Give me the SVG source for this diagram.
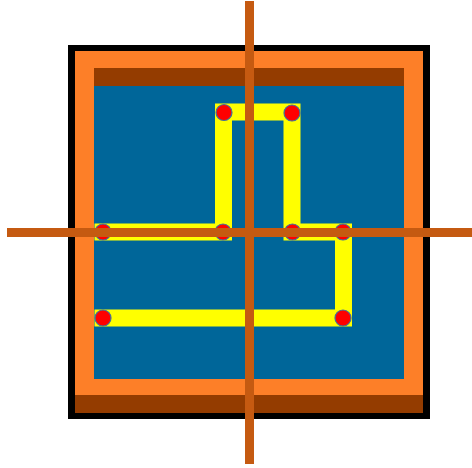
<svg xmlns="http://www.w3.org/2000/svg" width="472" height="468" viewBox="0 0 472 468">
<style>
.dot{fill:#FF0000;stroke:#41719C;stroke-width:1.2}
.axis{fill:#C55A11}
</style>
<rect width="472" height="468" fill="#FFFFFF"/>
<g id="box">
<rect x="68" y="45" width="362" height="374" fill="#000000"/>
<rect x="75" y="51" width="348" height="362" fill="#FD7F28"/>
<rect x="75" y="395" width="348" height="18" fill="#943C00"/>
<rect x="94" y="68" width="310" height="18" fill="#943C00"/>
<rect x="94" y="86" width="310" height="293" fill="#006699"/>
</g>
<g id="track">
<polyline points="103,232 223.5,232 223.5,112 292,112 292,232 343.5,232 343.5,318 103,318" fill="none" stroke="#FFFF00" stroke-width="17" stroke-linecap="square" stroke-linejoin="miter"/>
</g>
<g id="dots">
<circle class="dot" cx="224" cy="112.5" r="8"/>
<circle class="dot" cx="292" cy="113" r="8"/>
<circle class="dot" cx="103" cy="232" r="8"/>
<circle class="dot" cx="223" cy="232" r="8"/>
<circle class="dot" cx="292.5" cy="232" r="8"/>
<circle class="dot" cx="343" cy="232" r="8"/>
<circle class="dot" cx="103" cy="318" r="8"/>
<circle class="dot" cx="343" cy="318" r="8"/>
</g>
<g id="axes">
<rect class="axis" x="7" y="228" width="465" height="9"/>
<rect class="axis" x="245" y="1" width="9" height="463"/>
</g>
</svg>
